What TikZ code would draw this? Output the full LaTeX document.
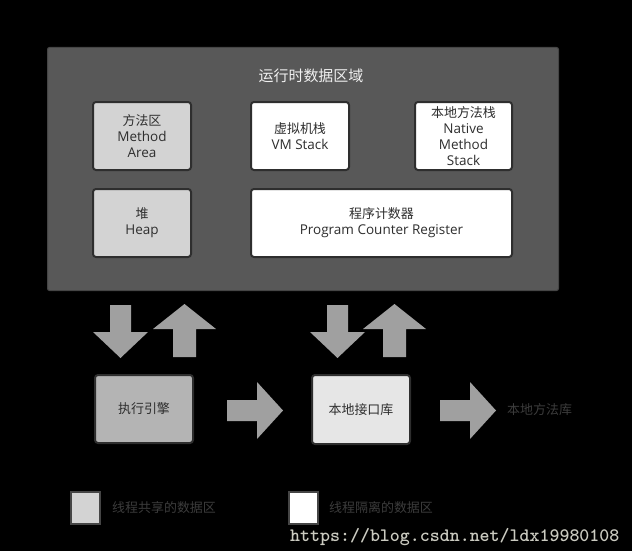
\documentclass[tikz,border=0pt]{standalone}
\usepackage{fontspec}
\setmainfont{Open Sans}
\newfontfamily\cjk[Scale=0.96]{Noto Sans CJK SC}
\newcommand\zh[1]{{\cjk #1}}
\definecolor{panelfill}{HTML}{585858}
\definecolor{panelline}{HTML}{454545}
\definecolor{boxline}{HTML}{2E2E2E}
\definecolor{boxtext}{HTML}{2E2E2E}
\definecolor{sharedfill}{HTML}{D3D3D3}
\definecolor{execfill}{HTML}{B4B4B4}
\definecolor{nativefill}{HTML}{E6E6E6}
\definecolor{arrowgray}{HTML}{A0A0A0}
\definecolor{dimtext}{HTML}{3C3C3C}
\definecolor{urltext}{HTML}{CACAC0}
\tikzset{
  box/.style={draw=boxline, line width=2pt, rounded corners=3pt, inner sep=0pt,
    align=center, text=boxtext, font=\fontsize{13.5}{16}\selectfont},
  sharedbox/.style={box, fill=sharedfill},
  privatebox/.style={box, fill=white},
  blockarrow/.style={fill=arrowgray},
  legendbox/.style={draw=panelline, line width=2pt, inner sep=0pt,
    minimum width=29pt, minimum height=32pt},
  dimlabel/.style={anchor=west, inner sep=0pt, text=dimtext, font=\fontsize{13.5}{16}\selectfont},
}
\begin{document}
\begin{tikzpicture}[x=1pt,y=-1pt]
\useasboundingbox (0,0) rectangle (632,551);
\fill[black] (0,0) rectangle (632,551);
% runtime data area panel
\node[draw=panelline, line width=1pt, fill=panelfill, rounded corners=2pt,
  minimum width=511pt, minimum height=243pt, inner sep=0pt] (runtime) at (303,169) {};
\node[text=white!94!black, inner sep=0pt, font=\fontsize{15.6}{18}\selectfont] (title) at (311,76) {\zh{运行时数据区域}};
\node[sharedbox, minimum width=98pt, minimum height=68pt] (method) at (142,136)
  {\zh{方法区}\\Method\\Area};
\node[privatebox, minimum width=98pt, minimum height=68pt] (vmstack) at (300,136)
  {\zh{虚拟机栈}\\VM Stack};
\node[privatebox, minimum width=97pt, minimum height=68pt] (nativestack) at (463.5,136)
  {\zh{本地方法栈}\\Native\\Method\\Stack};
\node[sharedbox, minimum width=98pt, minimum height=68pt] (heap) at (142,223)
  {\zh{堆}\\Heap};
\node[privatebox, minimum width=261pt, minimum height=68pt] (pcr) at (381.5,223)
  {\zh{程序计数器}\\Program Counter Register};
% block arrows
\fill[blockarrow] (110,305) -- (131,305) -- (131,332) -- (148,332) -- (120.5,358) -- (93,332) -- (110,332) -- cycle;
\fill[blockarrow] (184.5,304) -- (216,329) -- (196,329) -- (196,357) -- (173,357) -- (173,329) -- (153,329) -- cycle;
\fill[blockarrow] (327,305) -- (348,305) -- (348,332) -- (365,332) -- (337.5,358) -- (310,332) -- (327,332) -- cycle;
\fill[blockarrow] (394.5,304) -- (426,329) -- (406,329) -- (406,357) -- (383,357) -- (383,329) -- (363,329) -- cycle;
\fill[blockarrow] (227,400) -- (257,400) -- (257,382) -- (283,410.5) -- (257,439) -- (257,421) -- (227,421) -- cycle;
\fill[blockarrow] (440,400) -- (470,400) -- (470,382) -- (496,410.5) -- (470,439) -- (470,421) -- (440,421) -- cycle;
% bottom boxes
\node[box, fill=execfill, minimum width=98pt, minimum height=68pt] (engine) at (144,409) {\zh{执行引擎}};
\node[box, fill=nativefill, minimum width=98pt, minimum height=69pt] (nif) at (361,409.5) {\zh{本地接口库}};
\node[dimlabel] (nlib) at (507,410) {\zh{本地方法库}};
% legend
\node[legendbox, fill=sharedfill] (legshared) at (85.5,508) {};
\node[dimlabel] (legsharedtext) at (112,508) {\zh{线程共享的数据区}};
\node[legendbox, fill=white] (legprivate) at (303,508) {};
\node[dimlabel] (legprivatetext) at (329,508) {\zh{线程隔离的数据区}};
% watermark
\node[anchor=west, inner sep=0pt, text=urltext, font=\fontsize{19}{20}\ttfamily\bfseries] (url) at (290,537) {https://blog.csdn.net/ldx19980108};
\end{tikzpicture}
\end{document}
